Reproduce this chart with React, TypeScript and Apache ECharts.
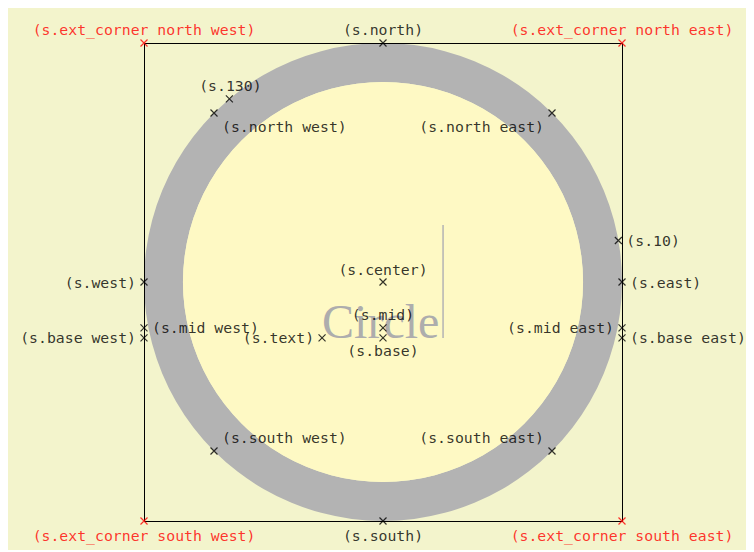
import React, { useEffect, useRef } from "react";
import * as echarts from "echarts";

// Anchor points of the circle shape "s" (unit = outer radius)
const anchorNames = [
  "s.north", "s.south", "s.east", "s.west",
  "s.north west", "s.north east", "s.south west", "s.south east",
  "s.center", "s.mid", "s.base", "s.text",
  "s.mid west", "s.base west", "s.mid east", "s.base east",
  "s.130", "s.10",
];
const anchorX = [
  0, 0, 1, -1,
  -0.7071, 0.7071, -0.7071, 0.7071,
  0, 0, 0, -0.255,
  -1, -1, 1, 1,
  -0.6428, 0.9848,
];
const anchorY = [
  1, -1, 0, 0,
  0.7071, 0.7071, -0.7071, -0.7071,
  0, -0.192, -0.234, -0.234,
  -0.192, -0.234, -0.192, -0.234,
  0.766, 0.1736,
];

const cornerNames = [
  "s.ext_corner north west", "s.ext_corner north east",
  "s.ext_corner south west", "s.ext_corner south east",
];
const cornerX = [-1, 1, -1, 1];
const cornerY = [1, 1, -1, -1];

const innerRadius = 0.837;
const shapeText = "Circle";

// label placement (style): [dx, dy, align]
const placement: Record<string, [number, number, string]> = {
  "s.north": [0, -14, "center"],
  "s.south": [0, 14, "center"],
  "s.east": [8, 0, "left"],
  "s.west": [-8, 0, "right"],
  "s.north west": [8, 13, "left"],
  "s.north east": [-8, 13, "right"],
  "s.south west": [8, -13, "left"],
  "s.south east": [-8, -13, "right"],
  "s.center": [0, -13, "center"],
  "s.mid": [0, -13, "center"],
  "s.base": [0, 13, "center"],
  "s.text": [-8, 0, "right"],
  "s.mid west": [8, 0, "left"],
  "s.base west": [-8, 0, "right"],
  "s.mid east": [-8, 0, "right"],
  "s.base east": [8, 0, "left"],
  "s.130": [1, -13, "center"],
  "s.10": [8, 0, "left"],
  "s.ext_corner north west": [0, -14, "center"],
  "s.ext_corner north east": [0, -14, "center"],
  "s.ext_corner south west": [0, 14, "center"],
  "s.ext_corner south east": [0, 14, "center"],
};

const MONO = "DejaVu Sans Mono";
const CROSS = "path://M0,0L10,10M10,0L0,10";

function makePoint(name: string, x: number, y: number, color: string) {
  const [dx, dy, align] = placement[name];
  return {
    name,
    value: [x, y],
    itemStyle: { color: "transparent", borderColor: color, borderWidth: 1.2 },
    label: {
      show: true,
      position: "inside",
      align,
      verticalAlign: "middle",
      offset: [dx, dy],
      formatter: "({b})",
      color,
      textBorderWidth: 0,
      fontFamily: MONO,
      fontSize: 14.8,
    },
  };
}

export default function App() {
  const ref = useRef<HTMLDivElement>(null);
  useEffect(() => {
    document.body.style.overflow = "hidden";
    const chart = echarts.init(ref.current!, undefined, { renderer: "svg" });
    const points = anchorNames.map((n, i) => makePoint(n, anchorX[i], anchorY[i], "#000000"));
    const corners = cornerNames.map((n, i) => makePoint(n, cornerX[i], cornerY[i], "#ff0000"));
    chart.setOption({
      animation: false,
      backgroundColor: "#f3f4cc",
      grid: { left: 136, top: 35, width: 478, height: 478 },
      xAxis: { type: "value", min: -1, max: 1, show: false },
      yAxis: { type: "value", min: -1, max: 1, show: false },
      series: [
        {
          type: "custom",
          z: 1,
          silent: true,
          data: [[0, 0]],
          renderItem: (params: any, api: any) => {
            const c = api.coord([0, 0]);
            const unit = api.size([1, 1]);
            const r = unit[0];
            const r0 = r * innerRadius;
            const tl = api.coord([-1, 1]);
            const br = api.coord([1, -1]);
            const tp = api.coord([anchorX[11], anchorY[11]]);
            return {
              type: "group",
              children: [
                { type: "ring", shape: { cx: c[0], cy: c[1], r, r0 }, style: { fill: "#b3b3b3" } },
                { type: "circle", shape: { cx: c[0], cy: c[1], r: r0 }, style: { fill: "#fef9c4" } },
                {
                  type: "rect",
                  shape: { x: Math.round(tl[0]) + 0.5, y: Math.round(tl[1]) + 0.5, width: Math.round(br[0] - tl[0]), height: Math.round(br[1] - tl[1]) },
                  style: { fill: "none", stroke: "#000", lineWidth: 1 },
                },
                {
                  type: "text",
                  style: {
                    text: shapeText,
                    x: tp[0],
                    y: tp[1] - 16,
                    font: '48px "Liberation Serif"',
                    fill: "#adadad",
                    textAlign: "left",
                    textVerticalAlign: "middle",
                  },
                },
                {
                  type: "line",
                  shape: { x1: tp[0] + 121, y1: tp[1] - 113, x2: tp[0] + 121, y2: tp[1] },
                  style: { stroke: "#b3b3b3", lineWidth: 1.5 },
                },
              ],
            };
          },
        },
        {
          type: "scatter",
          z: 5,
          symbol: CROSS,
          symbolSize: 7,
          data: [...points, ...corners],
        },
      ],
    });
    return () => chart.dispose();
  }, []);
  return <div ref={ref} style={{ width: 746, height: 542 }} />;
}
